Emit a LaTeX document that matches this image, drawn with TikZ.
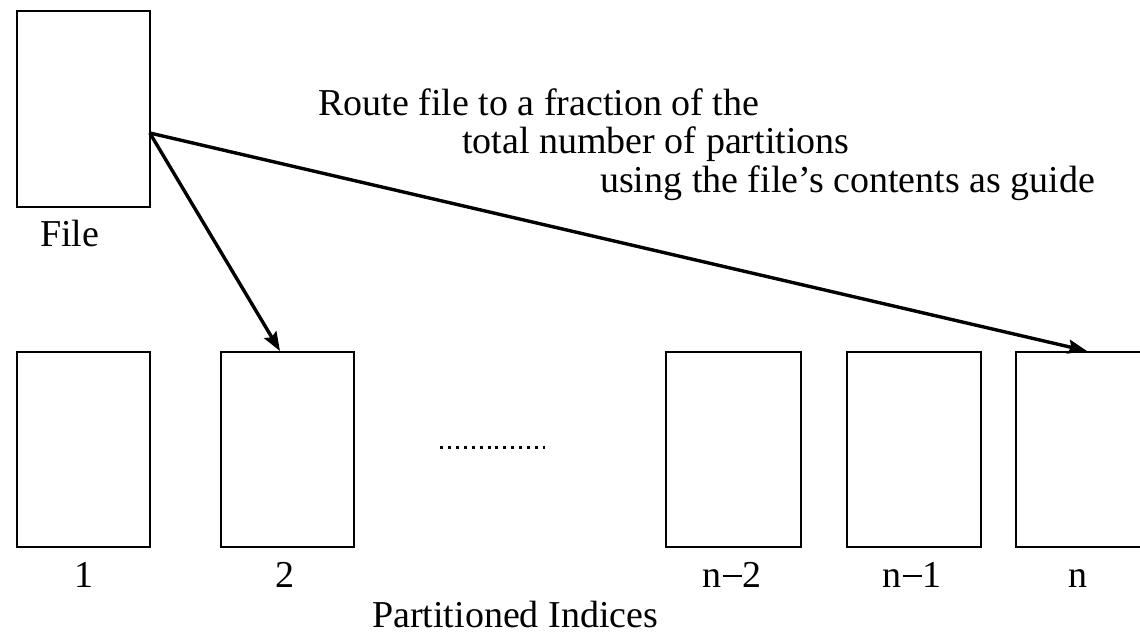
\documentclass[tikz,border=0pt]{standalone}
\usepackage{fontspec}
\setmainfont{Liberation Serif}
\usetikzlibrary{arrows.meta,calc}
\begin{document}
\begin{tikzpicture}[x=1pt,y=-1pt,
  card/.style={draw,line width=1.8pt,rectangle,minimum width=133pt,minimum height=196pt,inner sep=0pt,anchor=north west},
  lbl/.style={inner sep=0pt,font=\fontsize{38}{40}\selectfont},
  route/.style={line width=3.4pt,-{Stealth[length=19pt,width=14pt,inset=3pt]}}]
\useasboundingbox (0,0) rectangle (1140,637);
\clip (0,0) rectangle (1140,637);
% source file
\node[card] (file) at (16,10) {};
\node[lbl,anchor=base west] (filelbl) at (40,246) {File};
% partitions
\node[card,minimum height=195pt] (p1) at (16,351) {};
\node[card,minimum height=195pt] (p2) at (220,351) {};
\node[card,minimum height=195pt,minimum width=135pt] (pn2) at (665,351) {};
\node[card,minimum height=195pt,minimum width=134pt] (pn1) at (846,351) {};
\node[card,minimum height=195pt,minimum width=140pt] (pn) at (1015,351) {};
\node[lbl,anchor=base] (l1) at (84,587) {1};
\node[lbl,anchor=base] (l2) at (285,587) {2};
\node[lbl,anchor=base] (ln2) at (732,587) {n\kern1pt\rule[0.26em]{0.5em}{0.06em}\kern1pt2};
\node[lbl,anchor=base] (ln1) at (912,587) {n\kern1pt\rule[0.26em]{0.5em}{0.06em}\kern1pt1};
\node[lbl,anchor=base] (ln) at (1078,587) {n};
\node[lbl,anchor=base west] (title) at (372,627) {Partitioned Indices};
% gap between partitions
\coordinate (dotsA) at (440,447);
\coordinate (dotsB) at (545,447);
\draw[line width=3pt,dash pattern=on 3pt off 4.92pt] (dotsA) -- (dotsB);
% routing note
\node[lbl,anchor=base west] (note1) at (318,115) {Route file to a fraction of the};
\node[lbl,anchor=base west] (note2) at (462,153) {total number of partitions};
\node[lbl,anchor=base west] (note3) at (600,192) {using the file’s contents as guide};
% routing arrows
\coordinate (src) at ($(file.north east)+(-1,123)$);
\coordinate (dst2) at ($(p2.north west)+(60,0)$);
\coordinate (dstn) at ($(pn.north west)+(72,0)$);
\draw[route] (src) -- (dst2);
\draw[route] (src) -- (dstn);
\end{tikzpicture}
\end{document}
